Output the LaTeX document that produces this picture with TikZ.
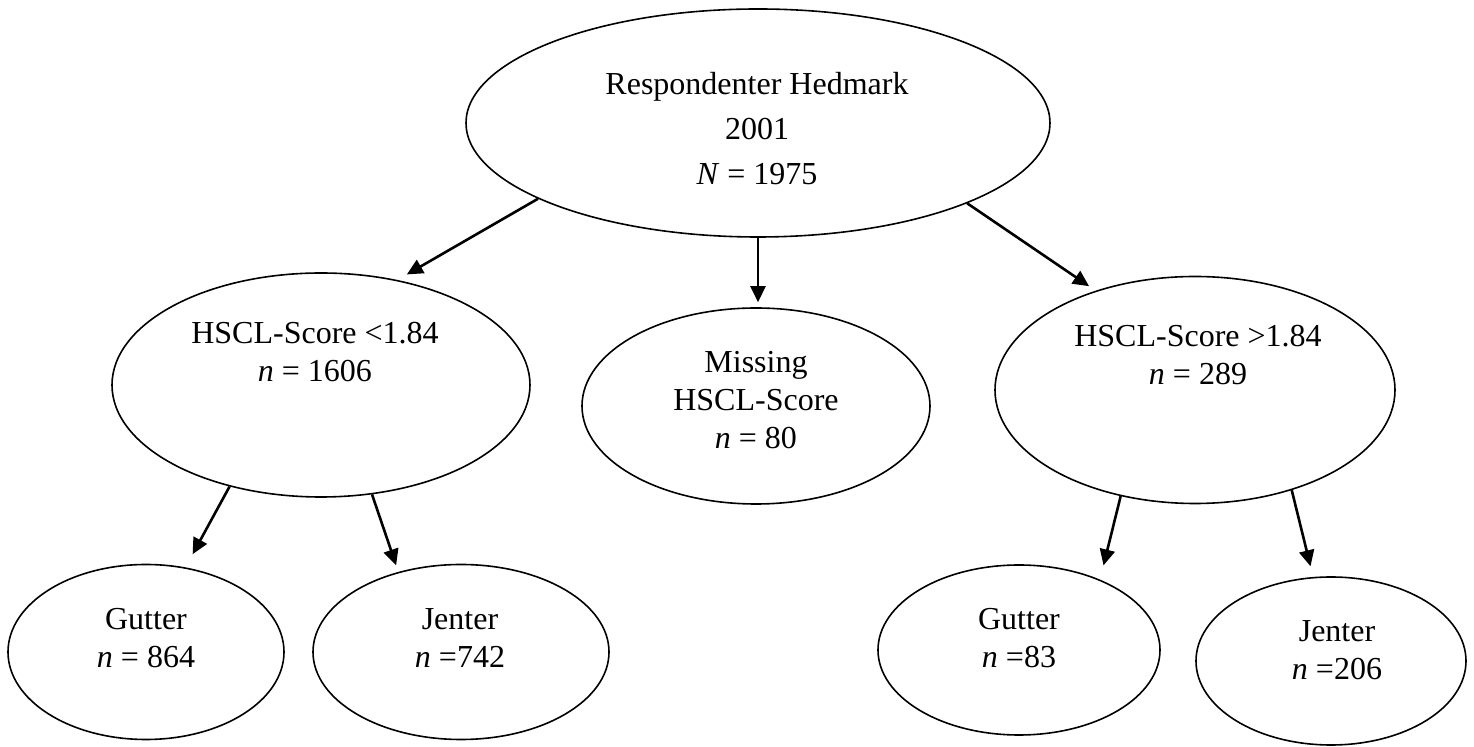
\documentclass[tikz,border=0pt]{standalone}
\usepackage{fontspec}
\setmainfont{Liberation Serif}
\usetikzlibrary{shapes.geometric}
\usetikzlibrary{arrows.meta}
\tikzstyle{Oval}=[ellipse,draw=black,line width=.8pt,inner sep=0pt]
\tikzstyle{Txt}=[align=center,inner sep=0pt,font=\fontsize{16}{19}\selectfont]
\tikzstyle{TxtWide}=[Txt,font=\fontsize{16}{22.5}\selectfont]
\tikzstyle{Edge}=[draw=black,line width=1.3pt,-{Triangle[length=8pt,width=7.5pt]}]

\begin{document}
\begin{tikzpicture}[x=.5pt,y=-.5pt]
        \useasboundingbox (0,0) rectangle (1474,747);
        % ovals
        \node[Oval,minimum width=292pt,minimum height=114pt](Root)at(758,123){};
        \node[Oval,minimum width=209pt,minimum height=112pt](Low)at(321,385){};
        \node[Oval,minimum width=174pt,minimum height=98pt](Miss)at(756,406){};
        \node[Oval,minimum width=200pt,minimum height=113.5pt](High)at(1195,390){};
        \node[Oval,minimum width=138pt,minimum height=87.5pt](LowBoys)at(146,652){};
        \node[Oval,minimum width=148pt,minimum height=87.5pt](LowGirls)at(461,652){};
        \node[Oval,minimum width=141pt,minimum height=85pt](HighBoys)at(1019,650){};
        \node[Oval,minimum width=135pt,minimum height=84pt](HighGirls)at(1331,661){};
        % texts
        \node[TxtWide](RootT)at(757,129){Respondenter Hedmark\\2001\\\textit{N} = 1975};
        \node[Txt](LowT)at(315,352){HSCL-Score <1.84\\\textit{n} = 1606};
        \node[Txt](MissT)at(756,400){Missing\\HSCL-Score\\\textit{n} = 80};
        \node[Txt](HighT)at(1198,355){HSCL-Score >1.84\\\textit{n} = 289};
        \node[Txt](LowBoysT)at(146,638){Gutter\\\textit{n} = 864};
        \node[Txt](LowGirlsT)at(460,638){Jenter\\\textit{n} =742};
        \node[Txt](HighBoysT)at(1019,638){Gutter\\\textit{n} =83};
        \node[Txt](HighGirlsT)at(1337,650){Jenter\\\textit{n} =206};
        % arrows
        \draw[Edge,shorten >=5.5pt](Root.199)--(Low.54);
        \draw[Edge,shorten >=2.5pt](Root.south)--(Root.south|-Miss.north);
        \draw[Edge,shorten >=4pt](Root.-21)--(High.135);
        \draw[Edge,shorten >=7.5pt](Low.228)--(LowBoys.65);
        \draw[Edge,shorten >=3.5pt](Low.-65)--(LowGirls.128);
        \draw[Edge,shorten >=7.3pt](High.235)--(HighBoys.41);
        \draw[Edge,shorten >=5.5pt](High.-46)--(HighGirls.102);
\end{tikzpicture}
\end{document}
